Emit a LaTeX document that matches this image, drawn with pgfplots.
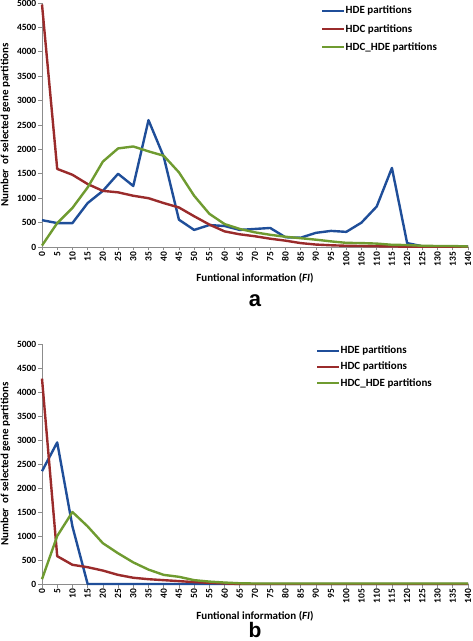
\documentclass[border=0pt]{standalone}
\usepackage{fontspec}
\setmainfont{Carlito}
\newfontfamily\arialfont{Liberation Sans}
\usepackage{pgfplots}
\usepackage{pgfplotstable}
\pgfplotsset{compat=1.18}

\definecolor{hdeblue}{HTML}{1F4E99}
\definecolor{hdcred}{HTML}{9A2B2B}
\definecolor{hdcgreen}{HTML}{6F9B30}
\definecolor{axgray}{HTML}{8C8C8C}

\pgfplotstableread{
F HDE HDC HDCHDE
0 550 4970 30
5 490 1600 490
10 490 1480 800
15 900 1290 1220
20 1150 1150 1750
25 1500 1120 2020
30 1250 1050 2060
35 2600 1000 1960
40 1850 900 1870
45 560 810 1530
50 350 630 1050
55 450 460 680
60 430 320 470
65 350 260 370
70 370 220 300
75 390 170 250
80 200 130 210
85 190 80 180
90 290 50 150
95 330 35 115
100 310 25 85
105 500 20 80
110 830 15 70
115 1620 10 45
120 80 8 40
125 15 5 25
130 10 5 20
135 10 5 20
140 10 5 10
}\tabA

\pgfplotstableread{
F HDE HDC HDCHDE
0 2350 4280 100
5 2950 580 1000
10 1200 400 1500
15 0 350 1200
20 0 280 850
25 0 190 640
30 0 130 450
35 0 100 300
40 0 80 190
45 0 60 150
50 0 40 80
55 0 25 50
60 0 12 30
65 0 0 15
70 0 0 10
75 0 0 10
80 0 0 10
85 0 0 10
90 0 0 10
95 0 0 10
100 0 0 10
105 0 0 10
110 0 0 10
115 0 0 10
120 0 0 10
125 0 0 10
130 0 0 10
135 0 0 10
140 0 0 10
}\tabB

\pgfplotsset{
  excel/.style={
    scale only axis,
    width=426pt,
    xmin=0, xmax=140, ymin=0, ymax=5000,
    axis x line*=bottom, axis y line*=left,
    axis line style={-, draw=axgray, line width=0.8pt},
    xtick={0,5,...,140}, ytick={0,500,...,5000},
    tick align=outside, major tick length=3.5pt,
    tick style={draw=axgray, line width=0.7pt},
    /pgf/number format/assume math mode=true,
    /pgf/number format/1000 sep={},
    scaled y ticks=false,
    xticklabel style={rotate=90, anchor=east, font=\bfseries\fontsize{9.5}{10}\selectfont, inner sep=1pt},
    yticklabel style={font=\bfseries\fontsize{9.5}{10}\selectfont, inner sep=2pt},
    every axis y label/.style={at={(axis description cs:-0.0857,0.5)}, rotate=90, anchor=center, font=\bfseries\fontsize{11}{12}\selectfont},
    ylabel={Number~ of selected gene partitions},
    xlabel={Funtional information (\textit{FI})},
    clip=false,
    legend cell align=left,
    legend image code/.code={\draw[##1, line width=2pt] (0pt,0pt) -- (22pt,0pt);},
    every axis plot/.append style={line width=2.4pt, line join=round, mark=none},
  }
}

\begin{document}
\begin{tikzpicture}
\useasboundingbox (0,0) rectangle (473pt,641pt);

% Panel a
\begin{axis}[excel, height=244pt, at={(42pt,394pt)}, anchor=south west,
  every axis x label/.style={at={(axis description cs:0.5,0)}, yshift=-31pt, anchor=center, font=\bfseries\fontsize{11}{12}\selectfont},
  legend style={at={(rel axis cs:0.655,0.99)}, anchor=north west, draw=none, fill=none,
    font=\bfseries\fontsize{11}{12}\selectfont, inner sep=0pt, row sep=8pt,
    nodes={inner sep=0.5pt}},
]
\addplot[hdeblue] table[x=F, y=HDE] {\tabA};
\addlegendentry{HDE partitions}
\addplot[hdcred] table[x=F, y=HDC] {\tabA};
\addlegendentry{HDC partitions}
\addplot[hdcgreen] table[x=F, y=HDCHDE] {\tabA};
\addlegendentry{HDC\_HDE partitions}
\end{axis}

% Panel b
\begin{axis}[excel, height=240pt, at={(42pt,57pt)}, anchor=south west,
  every axis x label/.style={at={(axis description cs:0.5,0)}, yshift=-32pt, anchor=center, font=\bfseries\fontsize{11}{12}\selectfont},
  legend style={at={(rel axis cs:0.643,0.995)}, anchor=north west, draw=none, fill=none,
    font=\bfseries\fontsize{11}{12}\selectfont, inner sep=0pt, row sep=6pt,
    nodes={inner sep=0.5pt}},
]
\addplot[hdeblue] table[x=F, y=HDE] {\tabB};
\addlegendentry{HDE partitions}
\addplot[hdcred] table[x=F, y=HDC] {\tabB};
\addlegendentry{HDC partitions}
\addplot[hdcgreen] table[x=F, y=HDCHDE] {\tabB};
\addlegendentry{HDC\_HDE partitions}
\end{axis}

\node[font=\arialfont\bfseries\fontsize{22}{24}\selectfont, anchor=base, inner sep=0pt] at (255pt,641pt-307pt) {a};
\node[font=\arialfont\bfseries\fontsize{21}{24}\selectfont, anchor=base, inner sep=0pt] at (255pt,641pt-638pt) {b};
\end{tikzpicture}
\end{document}
